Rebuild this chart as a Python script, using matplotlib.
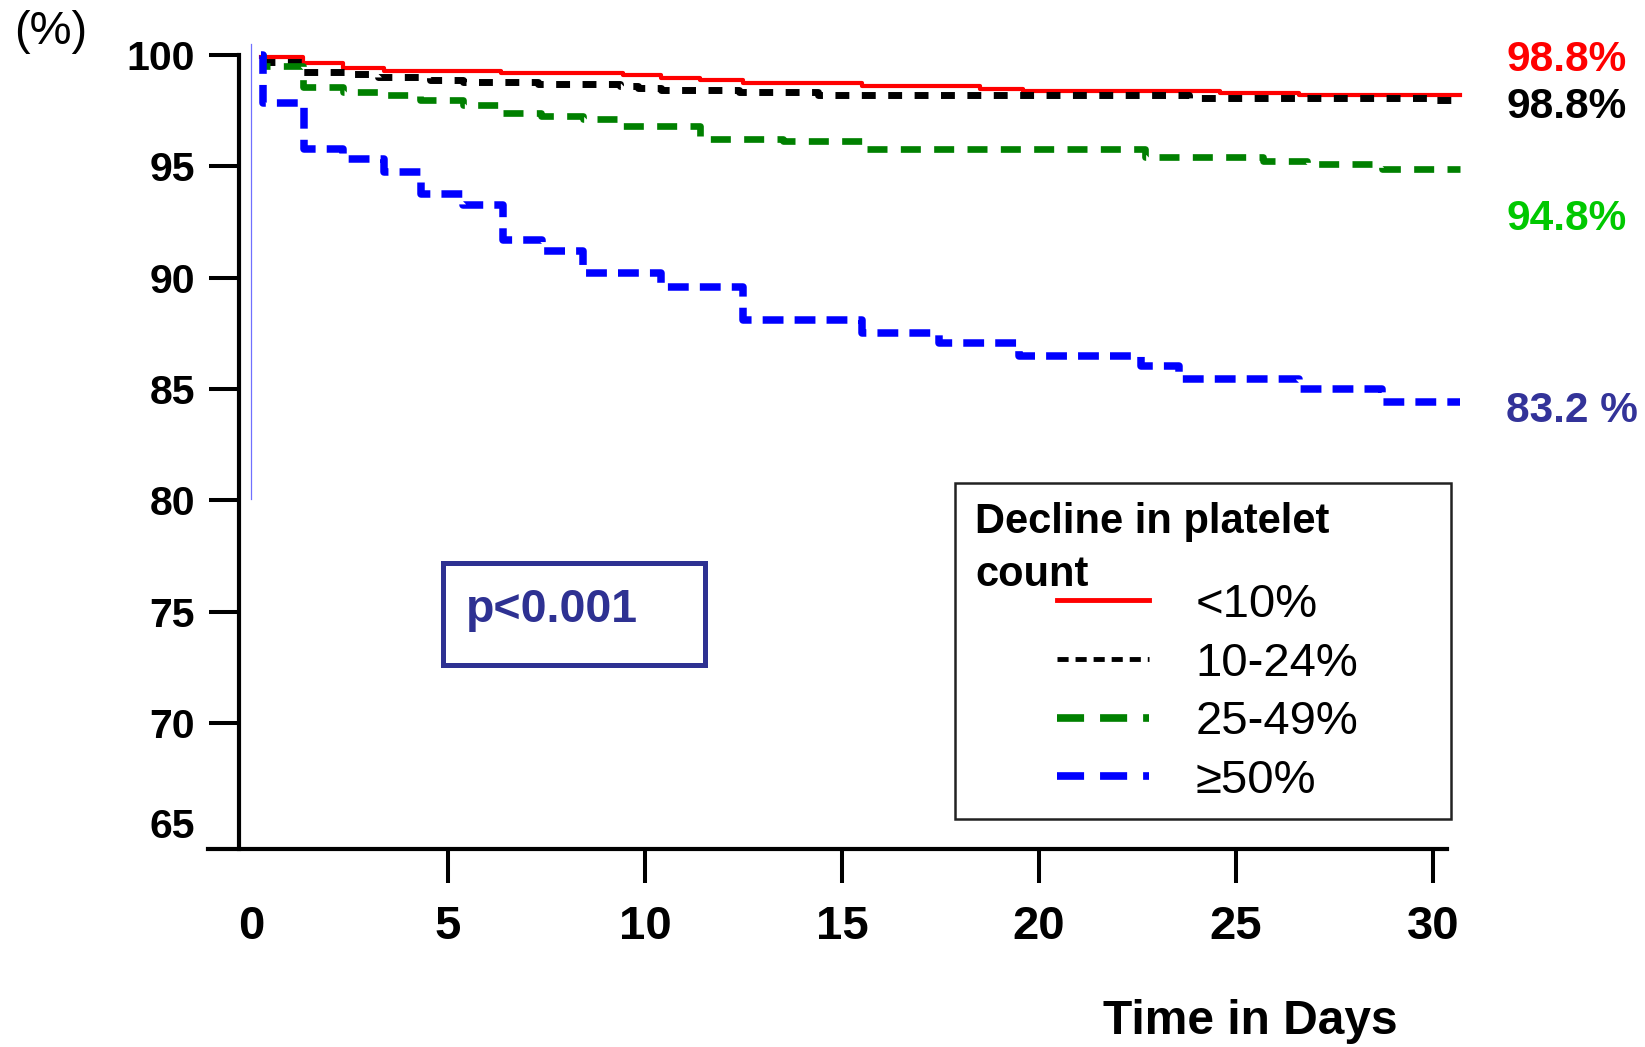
import matplotlib
matplotlib.use("Agg")
import matplotlib.pyplot as plt
from matplotlib.lines import Line2D
from matplotlib.patches import Rectangle

plt.rcParams['font.family'] = ['Liberation Sans', 'DejaVu Sans']
plt.rcParams['lines.scale_dashes'] = False

# survival (%) vs days
red_x = [0.25, 1.32, 2.34, 3.38, 6.35, 9.44, 10.4, 11.4, 12.5, 15.5, 18.5, 19.6, 24.6, 26.6, 30.7]
red_y = [99.93, 99.65, 99.40, 99.30, 99.18, 99.09, 98.95, 98.88, 98.73, 98.62, 98.47, 98.38, 98.28, 98.20, 98.20]

black_x = [0.25, 1.32, 2.43, 3.23, 4.54, 5.38, 7.28, 9.37, 9.82, 10.4, 12.4, 14.4, 23.8, 29.9, 30.7]
black_y = [99.70, 99.22, 99.13, 99.03, 98.88, 98.78, 98.70, 98.62, 98.53, 98.43, 98.32, 98.20, 98.08, 97.98, 97.98]

green_x = [0.25, 0.3, 1.32, 2.34, 3.35, 4.28, 5.38, 6.4, 7.37, 8.43, 9.44, 11.4, 13.5, 15.6, 22.7, 25.7, 26.8, 28.7, 30.7]
green_y = [100, 99.5, 98.58, 98.35, 98.2, 97.98, 97.75, 97.41, 97.26, 97.15, 96.81, 96.23, 96.14, 95.77, 95.43, 95.25, 95.09, 94.88, 94.88]

blue_x = [0.25, 0.3, 1.35, 2.34, 3.39, 4.32, 5.38, 6.4, 7.4, 8.43, 10.4, 12.48, 15.5, 17.46, 19.5, 22.6, 23.55, 26.6, 28.7, 30.7]
blue_y = [100, 97.86, 95.78, 95.33, 94.76, 93.74, 93.26, 91.69, 91.2, 90.2, 89.6, 88.1, 87.53, 87.05, 86.48, 86.03, 85.45, 84.99, 84.43, 84.43]

groups = ['<10%', '10-24%', '25-49%', '\u226550%']
end_labels = ['98.8%', '98.8%', '94.8%', '83.2 %']
xticks = [0, 5, 10, 15, 20, 25, 30]
yticks = [65.5, 70, 75, 80, 85, 90, 95, 100]
ytick_labels = ['65', '70', '75', '80', '85', '90', '95', '100']
censor_x, censor_y = [0, 0], [80.06, 100.5]

W, H = 1645, 1047
fig = plt.figure(figsize=(W / 100, H / 100), dpi=100)


def fx(px):
    return px / W


def fy(py):
    return 1 - py / H


ax = fig.add_axes([fx(208), fy(849), (1447 - 208) / W, (849 - 32.8) / H])
ax.set_xlim(-1.09, 30.36)
ax.set_ylim(64.35, 101.0)

ax.plot(censor_x, censor_y, color='#7070ff', lw=0.9, clip_on=False)
ax.plot(red_x, red_y, drawstyle='steps-post', color='#ff0000', lw=3.0, clip_on=False)
ax.plot(black_x, black_y, drawstyle='steps-post', color='black', lw=5.0,
        dashes=(10, 9), clip_on=False)
ax.plot(green_x, green_y, drawstyle='steps-post', color='#008000', lw=4.8,
        dashes=(14.4, 9.6), clip_on=False)
ax.plot(blue_x, blue_y, drawstyle='steps-post', color='#0000ff', lw=5.4,
        dashes=(15, 8), clip_on=False)

# axes
for s in ['top', 'right']:
    ax.spines[s].set_visible(False)
ax.spines['left'].set_position(('data', -0.30))
ax.spines['left'].set_bounds(64.35, 100)
ax.spines['left'].set_linewidth(3)
ax.spines['bottom'].set_linewidth(3)

ax.set_yticks(yticks)
ax.set_yticklabels(ytick_labels, fontweight='bold')
ax.set_xticks(xticks)
ax.set_xticklabels([str(t) for t in xticks], fontweight='bold')
ax.tick_params(axis='y', labelsize=29.5, length=21.6, width=2.9, pad=10, direction='out')
ax.tick_params(axis='x', labelsize=34, length=24.5, width=2.9, pad=16, direction='out')
ax.yaxis.get_major_ticks()[0].tick1line.set_visible(False)
ax.xaxis.get_major_ticks()[0].tick1line.set_visible(False)

fig.text(fx(51), fy(32), '(%)', fontsize=34, ha='center', va='center')
fig.text(fx(1250), fy(1022), 'Time in Days', fontsize=34.5, fontweight='bold',
         ha='center', va='center')

# end-of-curve percentages
label_colors = ['#ff0000', 'black', '#00c800', '#333399']
label_py = [60, 107, 219, 411]
for txt, c, py in zip(end_labels, label_colors, label_py):
    fig.text(fx(1506), fy(py), txt, color=c, fontsize=30.5, fontweight='bold',
             ha='left', va='center')

# p-value box
fig.add_artist(Rectangle((fx(443), fy(665)), (705 - 443) / W, (665 - 563) / H,
                         transform=fig.transFigure, fill=False,
                         edgecolor='#2e3192', lw=3.6))
fig.text(fx(466), fy(610), 'p<0.001', color='#2e3192', fontsize=33.5,
         fontweight='bold', ha='left', va='center')

# legend: frame, two-line title, entries
fig.add_artist(Rectangle((fx(955), fy(819)), (1451 - 955) / W, (819 - 483) / H,
                         transform=fig.transFigure, fill=False,
                         edgecolor='#222222', lw=1.8))
fig.text(fx(975), fy(533), 'Decline in platelet', fontsize=30,
         fontweight='bold', ha='left', va='baseline')
fig.text(fx(975), fy(586), 'count', fontsize=30,
         fontweight='bold', ha='left', va='baseline')
handles = [
    Line2D([], [], color='#ff0000', lw=3.5),
    Line2D([], [], color='black', lw=3.5, dashes=(8, 5)),
    Line2D([], [], color='#008000', lw=5.5, dashes=(19.5, 11.5)),
    Line2D([], [], color='#0000ff', lw=5.5, dashes=(19.5, 11.5)),
]
ax.legend(handles, groups, frameon=False, loc='upper left',
          bbox_to_anchor=(fx(1057), fy(583)), bbox_transform=fig.transFigure,
          borderpad=0, borderaxespad=0, fontsize=34, handlelength=1.94,
          handletextpad=1.0, labelspacing=0.31)

plt.savefig('out.png', dpi=100)
